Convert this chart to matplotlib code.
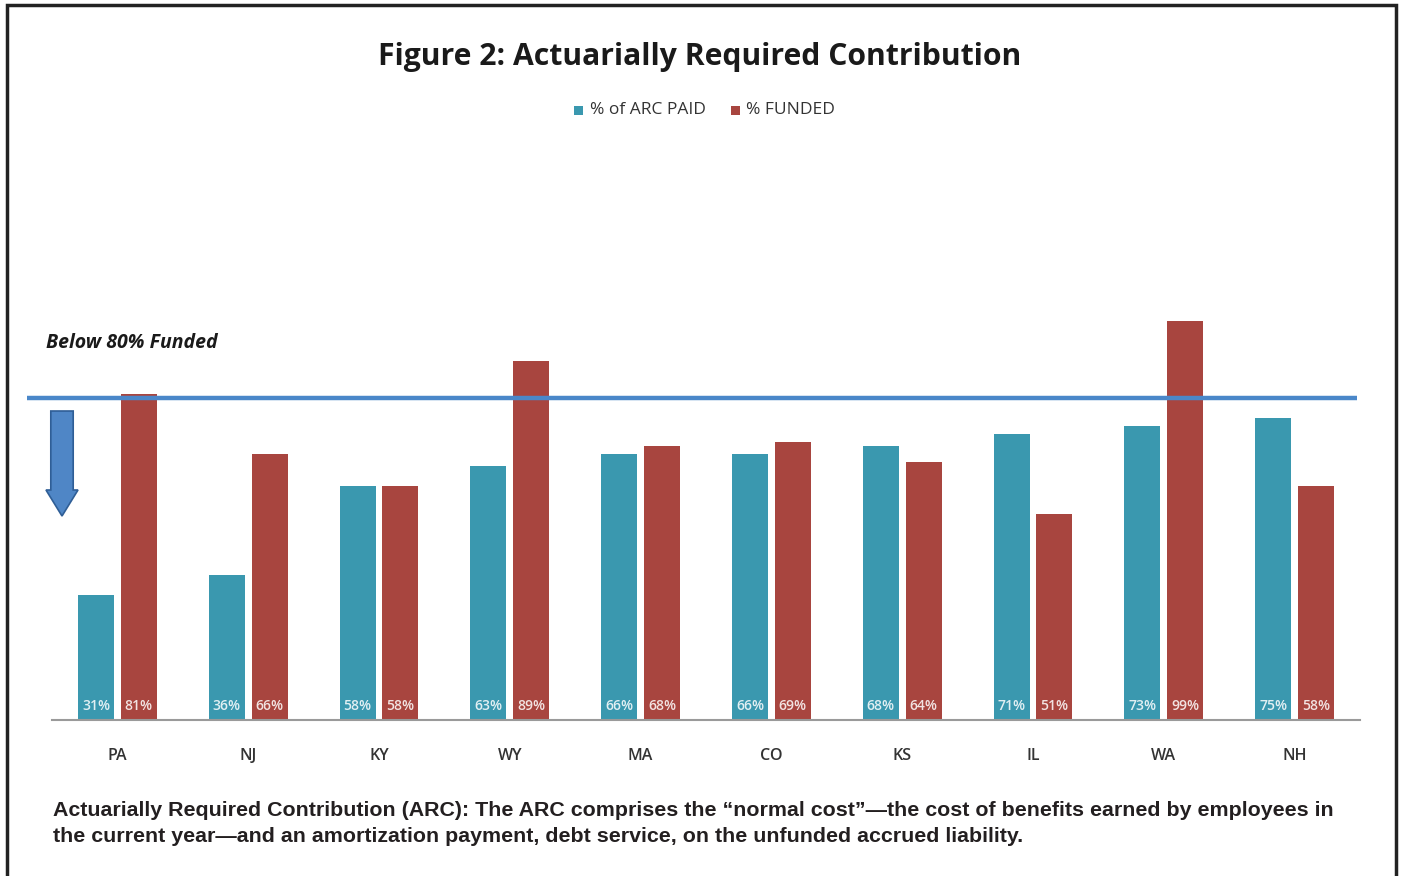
import matplotlib
matplotlib.use("Agg")
import matplotlib.pyplot as plt
import numpy as np
from matplotlib.patches import Rectangle, FancyArrow

states = ["PA", "NJ", "KY", "WY", "MA", "CO", "KS", "IL", "WA", "NH"]
arc_paid = [31, 36, 58, 63, 66, 66, 68, 71, 73, 75]
funded = [81, 66, 58, 89, 68, 69, 64, 51, 99, 58]
threshold = 80
series_names = ["% of ARC PAID", "% FUNDED"]

BLUE = "#3A98AF"
RED = "#A8453F"
LINE = "#4A87C9"

W, H = 1401, 876
fig = plt.figure(figsize=(W / 100, H / 100), dpi=100)
fig.patch.set_facecolor("white")

def fx(px):
    return px / W

def fy(py):
    return 1 - py / H

ax = fig.add_axes([fx(52), fy(720), fx(1360) - fx(52), fy(317) - fy(720)])
x = np.arange(len(states))
bw = 0.275
off = 0.164
b1 = ax.bar(x - off, arc_paid, bw, color=BLUE, zorder=2)
b2 = ax.bar(x + off, funded, bw, color=RED, zorder=2)
ax.set_xlim(-0.5, len(states) - 0.5)
ax.set_ylim(0, 100)
for s in ["top", "right", "left"]:
    ax.spines[s].set_visible(False)
ax.spines["bottom"].set_color("#9a9a9a")
ax.spines["bottom"].set_linewidth(1.5)
ax.set_yticks([])
ax.set_xticks(x)
ax.set_xticklabels(states, fontsize=11.5, color="#333333", family="Open Sans",
                   fontweight="semibold")
ax.tick_params(axis="x", length=0, pad=20)

for xi, v in zip(x, arc_paid):
    ax.text(xi - off, 1.8, f"{v}%", ha="center", va="bottom", color="white",
            fontsize=10, family="Open Sans", fontweight="semibold", alpha=0.85, zorder=3)
for xi, v in zip(x, funded):
    ax.text(xi + off, 1.8, f"{v}%", ha="center", va="bottom", color="white",
            fontsize=10, family="Open Sans", fontweight="semibold", alpha=0.85, zorder=3)

# threshold line extending beyond axes
ax.plot([-0.69, 9.48], [threshold, threshold], color=LINE, lw=3.2,
        clip_on=False, zorder=4, solid_capstyle="butt")

# arrow
fig.patches.append(FancyArrow(fx(62), fy(411), 0, fy(516) - fy(411),
                              width=14 / H, head_width=32 / W, head_length=26 / H,
                              length_includes_head=True, transform=fig.transFigure,
                              facecolor="#4F86C6", edgecolor="#2F5E96", lw=1.2))

fig.text(fx(46), fy(343), "Below 80% Funded", fontsize=14, fontweight="bold",
         fontstyle="italic", family="Open Sans", color="#1a1a1a", va="center", ha="left")

fig.text(fx(700), fy(57), "Figure 2: Actuarially Required Contribution", fontsize=21.7,
         fontweight="bold", family="Open Sans", color="#1a1a1a", ha="center", va="center")

# legend
fig.patches.append(Rectangle((fx(574), fy(115)), 9 / W, 9 / H, transform=fig.transFigure,
                             facecolor=BLUE, edgecolor="none"))
fig.text(fx(590), fy(110), series_names[0], fontsize=12.5, family="Open Sans",
         color="#333333", va="center", ha="left")
fig.patches.append(Rectangle((fx(731), fy(115)), 9 / W, 9 / H, transform=fig.transFigure,
                             facecolor=RED, edgecolor="none"))
fig.text(fx(746), fy(110), series_names[1], fontsize=12.5, family="Open Sans",
         color="#333333", va="center", ha="left")

# caption
fig.text(fx(53), fy(810), "Actuarially Required Contribution (ARC): The ARC comprises the \u201cnormal cost\u201d\u2014the cost of benefits earned by employees in",
         fontsize=15.4, fontweight="bold", family="Liberation Sans", color="#231f20", va="center", ha="left")
fig.text(fx(53), fy(836), "the current year\u2014and an amortization payment, debt service, on the unfunded accrued liability.",
         fontsize=15.4, fontweight="bold", family="Liberation Sans", color="#231f20", va="center", ha="left")

# frame
fig.patches.append(Rectangle((fx(7), fy(880)), fx(1396) - fx(7), fy(5) - fy(880),
                             transform=fig.transFigure, facecolor="none",
                             edgecolor="#222222", lw=2.5))

fig.savefig("out.png", dpi=100, facecolor="white")
